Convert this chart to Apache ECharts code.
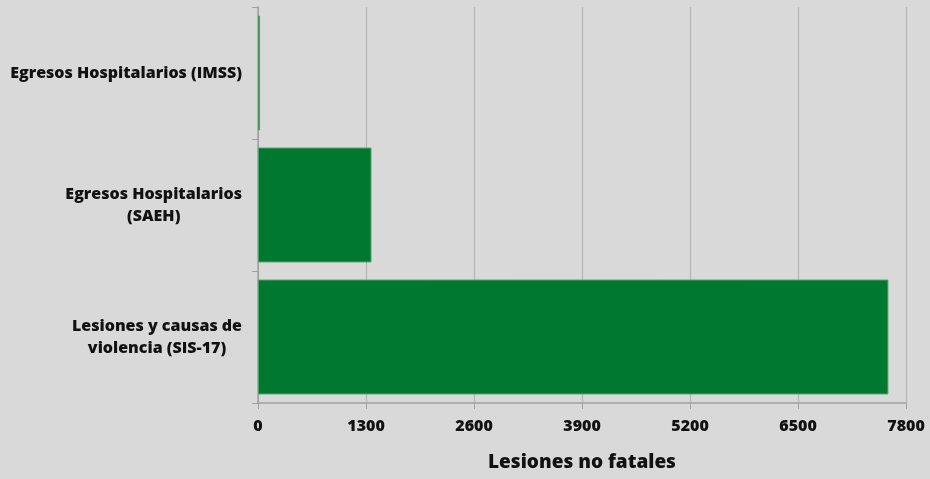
<!DOCTYPE html>
<html><head><meta charset="utf-8">
<script src="https://cdn.jsdelivr.net/npm/echarts@6/dist/echarts.min.js"></script>
<style>html,body{margin:0;padding:0;background:#d9d9d9}#c{width:930px;height:479px}</style>
</head><body><div id="c"></div>
<script>
const categories = ["Egresos Hospitalarios (IMSS)", "Egresos Hospitalarios\n(SAEH)", "Lesiones y causas de\nviolencia (SIS-17)"];
const values = [25, 1366, 7588];
const xTicks = [0, 1300, 2600, 3900, 5200, 6500, 7800];
const axisName = "Lesiones no fatales";
const FONT = 'Open Sans';
const W = 800;

const chart = echarts.init(document.getElementById('c'));
chart.setOption({
  backgroundColor: '#d9d9d9',
  animation: false,
  grid: {left: 258, right: 24, top: 7, bottom: 76},
  xAxis: {
    type: 'value', min: xTicks[0], max: xTicks[xTicks.length-1], interval: 1300,
    name: axisName, nameLocation: 'middle', nameGap: 50,
    nameTextStyle: {fontFamily: FONT, fontWeight: W, fontSize: 19, color: '#111'},
    axisLine: {show: true, lineStyle: {color: '#a0a0a0', width: 1.5}},
    axisTick: {show: true, length: 6, lineStyle: {color: '#a0a0a0'}},
    axisLabel: {margin: 15, fontFamily: FONT, fontWeight: W, fontSize: 16, color: '#111',
      formatter: function (v) { return String(v); }},
    splitLine: {show: true, lineStyle: {color: '#b5b5b5', width: 1.2}}
  },
  yAxis: {
    type: 'category', data: categories, inverse: true,
    axisLine: {show: true, lineStyle: {color: '#a0a0a0', width: 1.5}},
    axisTick: {show: true, length: 6, lineStyle: {color: '#a0a0a0'}},
    axisLabel: {
      margin: 16, fontFamily: FONT, fontWeight: W, fontSize: 16, color: '#111', lineHeight: 22,
      formatter: function (v) { return v.split('\n').map(s => '{c|' + s + '}').join('\n'); },
      rich: {c: {align: 'center', fontFamily: FONT, fontWeight: W, fontSize: 16, color: '#111', lineHeight: 22}}
    }
  },
  series: [{
    type: 'bar', data: values, barCategoryGap: '13%',
    itemStyle: {color: '#00782f', borderColor: '#4d9d62', borderWidth: 1}
  }]
});
</script></body></html>
